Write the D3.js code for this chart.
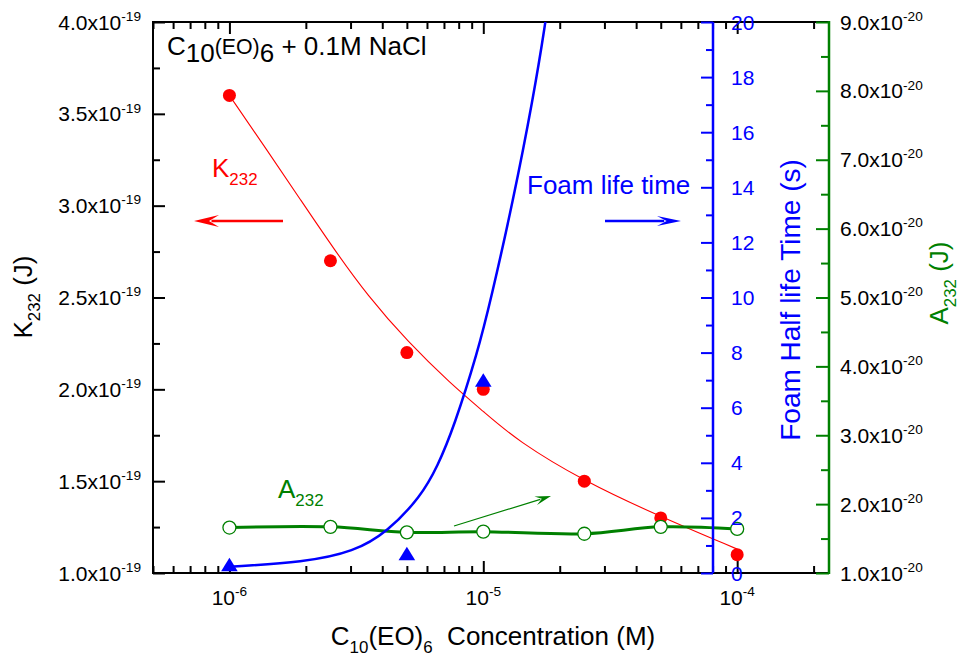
<!DOCTYPE html>
<html>
<head>
<meta charset="utf-8">
<script src="https://cdn.jsdelivr.net/npm/d3@7"></script>
<style>
  body { margin: 0; background: #fff; }
  svg { font-family: "Liberation Sans", Arial, sans-serif; }
  text { white-space: pre; }
</style>
</head>
<body>
<div id="chart"></div>
<script>
// measured data
let conc = [1e-6, 2.5e-6, 5e-6, 1e-5, 2.5e-5, 5e-5, 1e-4];
let k232 = [3.6e-19, 2.7e-19, 2.2e-19, 2.0e-19, 1.5e-19, 1.3e-19, 1.1e-19];
let a232 = [1.66e-20, 1.67e-20, 1.59e-20, 1.60e-20, 1.57e-20, 1.67e-20, 1.64e-20];
let foamConc = [1e-6, 5e-6, 1e-5];
let foamTime = [0.3, 0.7, 7.0];

// fitted curves
let kFitConc = [1e-6, 1.41e-6, 1.91e-6, 2.59e-6, 3.5e-6, 5.03e-6, 7.45e-6, 1.0e-5, 1.36e-5, 2.49e-5, 4.92e-5, 1e-4];
let kFitVal = [3.60e-19, 3.30e-19, 3.03e-19, 2.76e-19, 2.51e-19, 2.26e-19, 2.03e-19, 1.88e-19, 1.72e-19, 1.50e-19, 1.31e-19, 1.13e-19];
let foamFitConc = [1e-6, 1.97e-6, 3.1e-6, 4.2e-6, 5.67e-6, 6.6e-6, 7.67e-6, 9.49e-6, 1.07e-5, 1.31e-5, 1.57e-5, 1.76e-5, 1.85e-5];
let foamFitTime = [0.23, 0.39, 0.77, 1.5, 2.77, 3.86, 5.31, 8.0, 9.91, 13.5, 17.2, 20, 21.5];

// ticks
let xMajor = [1e-6, 1e-5, 1e-4];
let xMajorLabels = ["-6", "-5", "-4"];
let kMajor = [1.0e-19, 1.5e-19, 2.0e-19, 2.5e-19, 3.0e-19, 3.5e-19, 4.0e-19];
let kLabels = ["1.0", "1.5", "2.0", "2.5", "3.0", "3.5", "4.0"];
let kMinor = [1.25e-19, 1.75e-19, 2.25e-19, 2.75e-19, 3.25e-19, 3.75e-19];
let foamMajor = [0, 2, 4, 6, 8, 10, 12, 14, 16, 18, 20];
let foamMinor = [1, 3, 5, 7, 9, 11, 13, 15, 17, 19];
let aMajor = [1e-20, 2e-20, 3e-20, 4e-20, 5e-20, 6e-20, 7e-20, 8e-20, 9e-20];
let aLabels = ["1.0", "2.0", "3.0", "4.0", "5.0", "6.0", "7.0", "8.0", "9.0"];
let aMinor = [1.5e-20, 2.5e-20, 3.5e-20, 4.5e-20, 5.5e-20, 6.5e-20, 7.5e-20, 8.5e-20];

let w = 970;
let h = 662;
let pLeft = 153, pRight = 829, pTop = 22, pBottom = 573;
let blueAxisX = 713;

let RED = "#ff0000", BLUE = "#0000ff", GREEN = "#008000";

let svg = d3.select("#chart").append("svg")
              .attr("width", w)
              .attr("height", h);

let x = d3.scaleLog().domain([5e-7, 2.3e-4]).range([pLeft, pRight]);
let yK = d3.scaleLinear().domain([1e-19, 4e-19]).range([pBottom, pTop]);
let yF = d3.scaleLinear().domain([0, 20]).range([pBottom, pTop]);
let yA = d3.scaleLinear().domain([1e-20, 9e-20]).range([pBottom, pTop]);

// minor x ticks 2..9 of each decade inside the domain
let xMinor = [];
[-7, -6, -5, -4].forEach(function(e){
  for (let m = 2; m <= 9; m++) {
    let v = m * Math.pow(10, e);
    if (v >= 5e-7 && v <= 2.3e-4) xMinor.push(v);
  }
});

// text with sub / superscripts
function rich(g, parts, size) {
  let t = g.append("text").attr("font-size", size);
  let shift = 0;
  parts.forEach(function(p){
    let scale = p.s || (p.k ? 0.65 : 1);
    let off = p.o !== undefined ? p.o : (p.k == "sup" ? -0.42 : p.k == "sub" ? 0.32 : 0);
    let target = off * size;
    t.append("tspan")
      .attr("dy", target - shift)
      .attr("font-size", size * scale)
      .text(p.t);
    shift = target;
  });
  return t;
}

svg.append("defs").append("clipPath").attr("id", "clip")
   .append("rect").attr("x", pLeft).attr("y", pTop)
   .attr("width", pRight - pLeft).attr("height", pBottom - pTop);

// ---- axes ----
function tickAxis(axis, tx, ty, vals, len, color) {
  let g = svg.append("g").attr("transform", "translate(" + tx + "," + ty + ")")
             .call(axis.tickValues(vals).tickSize(len).tickSizeOuter(0).tickFormat(""));
  g.select(".domain").remove();
  g.selectAll("line").attr("stroke", color).attr("stroke-width", 2);
  return g;
}

// bottom and top x ticks (inward)
tickAxis(d3.axisBottom(x), 0, pBottom, xMajor, -12, "#000");
tickAxis(d3.axisBottom(x), 0, pBottom, xMinor, -7, "#000");
tickAxis(d3.axisTop(x), 0, pTop, xMajor, -12, "#000");
tickAxis(d3.axisTop(x), 0, pTop, xMinor, -7, "#000");

// left K axis
tickAxis(d3.axisLeft(yK), pLeft, 0, kMajor, -12, "#000");
tickAxis(d3.axisLeft(yK), pLeft, 0, kMinor, -7, "#000");

// frame lines
svg.append("line").attr("x1", pLeft).attr("x2", pRight).attr("y1", pBottom).attr("y2", pBottom)
   .attr("stroke", "#000").attr("stroke-width", 2);
svg.append("line").attr("x1", pLeft).attr("x2", pRight).attr("y1", pTop).attr("y2", pTop)
   .attr("stroke", "#000").attr("stroke-width", 2);
svg.append("line").attr("x1", pLeft).attr("x2", pLeft).attr("y1", pTop - 1).attr("y2", pBottom + 1)
   .attr("stroke", "#000").attr("stroke-width", 2);

// x tick labels
xMajor.forEach(function(v, i){
  rich(svg, [{t: "10"}, {t: xMajorLabels[i], k: "sup"}], 21)
    .attr("x", x(v)).attr("y", 605).attr("text-anchor", "middle");
});

// K tick labels
kMajor.forEach(function(v, i){
  rich(svg, [{t: kLabels[i] + "x10"}, {t: "-19", k: "sup"}], 21)
    .attr("x", 141).attr("y", yK(v) + 7.5).attr("text-anchor", "end");
});

// ---- data: K232 ----
let kFit = kFitConc.map(function(c, i){ return [c, kFitVal[i]]; });
svg.append("path").datum(kFit)
   .attr("d", d3.line().x(d => x(d[0])).y(d => yK(d[1])).curve(d3.curveBasis))
   .attr("fill", "none").attr("stroke", RED).attr("stroke-width", 1.1);

svg.selectAll("circle.k").data(conc).enter()
   .append("circle").attr("class", "k")
   .attr("cx", d => x(d))
   .attr("cy", (d, i) => yK(k232[i]))
   .attr("r", 6.5)
   .attr("fill", RED);

// ---- data: A232 ----
let aPts = conc.map(function(c, i){ return [c, a232[i]]; });
svg.append("path").datum(aPts)
   .attr("d", d3.line().x(d => x(d[0])).y(d => yA(d[1])).curve(d3.curveCatmullRom))
   .attr("fill", "none").attr("stroke", GREEN).attr("stroke-width", 3);

svg.selectAll("circle.a").data(conc).enter()
   .append("circle").attr("class", "a")
   .attr("cx", d => x(d))
   .attr("cy", (d, i) => yA(a232[i]))
   .attr("r", 6.5)
   .attr("fill", "#fff")
   .attr("stroke", GREEN).attr("stroke-width", 1.3);

// ---- data: foam life time ----
let fFit = foamFitConc.map(function(c, i){ return [c, foamFitTime[i]]; });
svg.append("path").datum(fFit)
   .attr("clip-path", "url(#clip)")
   .attr("d", d3.line().x(d => x(d[0])).y(d => yF(d[1])).curve(d3.curveBasis))
   .attr("fill", "none").attr("stroke", BLUE).attr("stroke-width", 2.5);

svg.selectAll("path.tri").data(foamConc).enter()
   .append("path").attr("class", "tri")
   .attr("transform", (d, i) => "translate(" + x(d) + "," + yF(foamTime[i]) + ")")
   .attr("d", "M0,-7L8.3,6.5L-8.3,6.5Z")
   .attr("fill", BLUE);

// ---- blue axis ----
tickAxis(d3.axisLeft(yF), blueAxisX, 0, foamMajor, 12, BLUE);
tickAxis(d3.axisLeft(yF), blueAxisX, 0, foamMinor, 7, BLUE);
svg.append("line").attr("x1", blueAxisX).attr("x2", blueAxisX).attr("y1", pTop).attr("y2", pBottom)
   .attr("stroke", BLUE).attr("stroke-width", 2.5);
foamMajor.forEach(function(v){
  svg.append("text").attr("x", 731).attr("y", yF(v) + 7.5)
     .attr("font-size", 21).attr("fill", BLUE).text(v);
});

// ---- green axis ----
tickAxis(d3.axisLeft(yA), pRight, 0, aMajor, 13, GREEN);
tickAxis(d3.axisLeft(yA), pRight, 0, aMinor, 8, GREEN);
svg.append("line").attr("x1", pRight).attr("x2", pRight).attr("y1", pTop - 1).attr("y2", pBottom + 1)
   .attr("stroke", GREEN).attr("stroke-width", 2.5);
aMajor.forEach(function(v, i){
  rich(svg, [{t: aLabels[i] + "x10"}, {t: "-20", k: "sup"}], 21)
    .attr("x", 840).attr("y", yA(v) + 7.5);
});

// ---- axis titles ----
rich(svg, [{t: "K"}, {t: "232", k: "sub"}, {t: " (J)"}], 26)
  .attr("text-anchor", "middle")
  .attr("transform", "translate(32,297) rotate(-90)");

rich(svg, [{t: "Foam Half life Time (s)"}], 28)
  .attr("text-anchor", "middle").attr("fill", BLUE)
  .attr("transform", "translate(800,300) rotate(-90)");

rich(svg, [{t: "A"}, {t: "232", k: "sub"}, {t: " (J)"}], 26)
  .attr("text-anchor", "middle").attr("fill", GREEN)
  .attr("transform", "translate(948,283) rotate(-90)");

rich(svg, [{t: "C"}, {t: "10", k: "sub"}, {t: "(EO)"}, {t: "6", k: "sub"}, {t: "  Concentration (M)"}], 26)
  .attr("x", 493).attr("y", 645).attr("text-anchor", "middle");

// ---- annotations ----
rich(svg, [{t: "C"}, {t: "10", s: 1, o: 0.28}, {t: "(EO)", s: 0.82, o: -0.05}, {t: "6", s: 1, o: 0.28}, {t: " + 0.1M NaCl", s: 1, o: 0}], 26)
  .attr("x", 167).attr("y", 55);

rich(svg, [{t: "K"}, {t: "232", k: "sub"}], 26)
  .attr("x", 212).attr("y", 177).attr("fill", RED);

svg.append("text").attr("x", 527).attr("y", 194).attr("font-size", 26)
   .attr("fill", BLUE).text("Foam life time");

rich(svg, [{t: "A"}, {t: "232", k: "sub"}], 26)
  .attr("x", 278).attr("y", 498).attr("fill", GREEN);

// arrows
function arrow(x1, y1, x2, y2, color, width, hl, hw) {
  let a = Math.atan2(y2 - y1, x2 - x1);
  let bx = x2 - hl * Math.cos(a), by = y2 - hl * Math.sin(a);
  svg.append("line").attr("x1", x1).attr("y1", y1)
     .attr("x2", x2 - hl * 0.7 * Math.cos(a)).attr("y2", y2 - hl * 0.7 * Math.sin(a))
     .attr("stroke", color).attr("stroke-width", width);
  let px = -Math.sin(a) * hw, py = Math.cos(a) * hw;
  svg.append("path")
     .attr("d", "M" + x2 + "," + y2 + "L" + (bx + px) + "," + (by + py) +
                "L" + (x2 - hl * 0.6 * Math.cos(a)) + "," + (y2 - hl * 0.6 * Math.sin(a)) +
                "L" + (bx - px) + "," + (by - py) + "Z")
     .attr("fill", color);
}
arrow(283, 221, 194, 221, RED, 2.5, 25, 6);
arrow(605, 221, 681, 221, BLUE, 2.5, 24, 5);
arrow(454, 526, 551, 496, GREEN, 1.2, 16, 4.5);
</script>
</body>
</html>
